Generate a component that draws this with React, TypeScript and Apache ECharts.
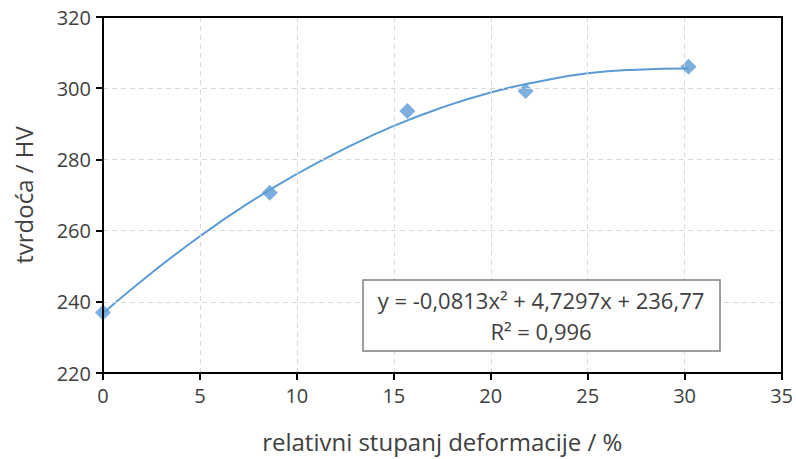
import React, { useEffect, useRef } from "react";
import * as echarts from "echarts";

const deformation = [0, 8.6, 15.7, 21.8, 30.2];
const hardness = [237, 270.6, 293.6, 299.2, 306];

// trendline
const trendX = [0, 2.5, 5, 7.5, 10, 12.5, 15, 17.5, 20, 22.5, 25, 27.5, 30.2];
const trendY = [236.8, 248.1, 258.4, 267.7, 275.9, 283.1, 289.4, 294.6, 298.8, 301.9, 304.2, 305.2, 305.5];

const equationText = "y = -0,0813x² + 4,7297x + 236,77";
const r2Text = "R² = 0,996";

const FONT = "'Open Sans', sans-serif";
const TXT = "#404040";
const AXIS = "#000000";

const GRID = { left: 103, right: 14, top: 17, bottom: 86 };
const W = 796;
const H = 459;

export default function App() {
  const ref = useRef<HTMLDivElement>(null);
  useEffect(() => {
    if (!ref.current) return;
    const chart = echarts.init(ref.current, null, { renderer: "svg" });
    const split = { show: true, lineStyle: { color: "#d9d9d9", type: [5, 4], width: 1 } };
    chart.setOption({
      animation: false,
      backgroundColor: "#fff",
      grid: GRID,
      xAxis: [
        {
          type: "value",
          min: 0,
          max: 35,
          interval: 5,
          name: "relativni stupanj deformacije / %",
          nameLocation: "middle",
          nameGap: 56,
          nameTextStyle: { fontFamily: FONT, fontSize: 24, color: TXT },
          axisLine: { show: true, onZero: false, lineStyle: { color: AXIS, width: 2 } },
          axisTick: { show: true, inside: false, length: 7, lineStyle: { color: AXIS, width: 2 } },
          axisLabel: { fontFamily: FONT, fontSize: 20, color: TXT, margin: 12 },
          splitLine: split,
          z: 5,
        },
        {
          type: "value",
          position: "top",
          min: 0,
          max: 35,
          interval: 5,
          axisLine: { show: true, onZero: false, lineStyle: { color: AXIS, width: 2 } },
          axisTick: { show: false },
          axisLabel: { show: false },
          splitLine: { show: false },
          z: 5,
        },
      ],
      yAxis: [
        {
          type: "value",
          min: 220,
          max: 320,
          interval: 20,
          name: "tvrdoća / HV",
          nameLocation: "middle",
          nameGap: 68,
          nameTextStyle: { fontFamily: FONT, fontSize: 24, color: TXT },
          axisLine: { show: true, onZero: false, lineStyle: { color: AXIS, width: 2 } },
          axisTick: { show: true, inside: false, length: 7, lineStyle: { color: AXIS, width: 2 } },
          axisLabel: { fontFamily: FONT, fontSize: 20, color: TXT, margin: 12 },
          splitLine: split,
          z: 5,
        },
        {
          type: "value",
          position: "right",
          min: 220,
          max: 320,
          interval: 20,
          axisLine: { show: true, onZero: false, lineStyle: { color: AXIS, width: 2 } },
          axisTick: { show: false },
          axisLabel: { show: false },
          splitLine: { show: false },
          z: 5,
        },
      ],
      series: [
        {
          type: "line",
          data: trendX.map((x, i) => [x, trendY[i]]),
          smooth: true,
          showSymbol: false,
          lineStyle: { color: "#5B9BD5", width: 2 },
          z: 2,
        },
        {
          type: "scatter",
          data: deformation.map((x, i) => [x, hardness[i]]),
          symbol: "diamond",
          symbolSize: 16,
          itemStyle: { color: "#5B9BD5" },
          z: 3,
        },
      ],
      graphic: [
        {
          type: "rect",
          shape: { x: 363, y: 280, width: 357, height: 71 },
          style: { fill: "#fff", stroke: "#7f7f7f", lineWidth: 1.5 },
          z: 10,
        },
        {
          type: "text",
          x: 541,
          y: 300,
          style: {
            text: equationText,
            fontFamily: FONT,
            fontSize: 22,
            fill: TXT,
            align: "center",
            verticalAlign: "middle",
          },
          z: 11,
        },
        {
          type: "text",
          x: 541,
          y: 331,
          style: {
            text: r2Text,
            fontFamily: FONT,
            fontSize: 22,
            fill: TXT,
            align: "center",
            verticalAlign: "middle",
          },
          z: 11,
        },
        {
          type: "rect",
          shape: {
            x: GRID.left,
            y: GRID.top,
            width: W - GRID.left - GRID.right,
            height: H - GRID.top - GRID.bottom,
          },
          style: { fill: "none", stroke: AXIS, lineWidth: 2 },
          silent: true,
          z: 100,
        },
      ],
    });
    return () => chart.dispose();
  }, []);
  return <div ref={ref} style={{ width: W, height: H, position: "absolute", left: 0, top: 0 }} />;
}
